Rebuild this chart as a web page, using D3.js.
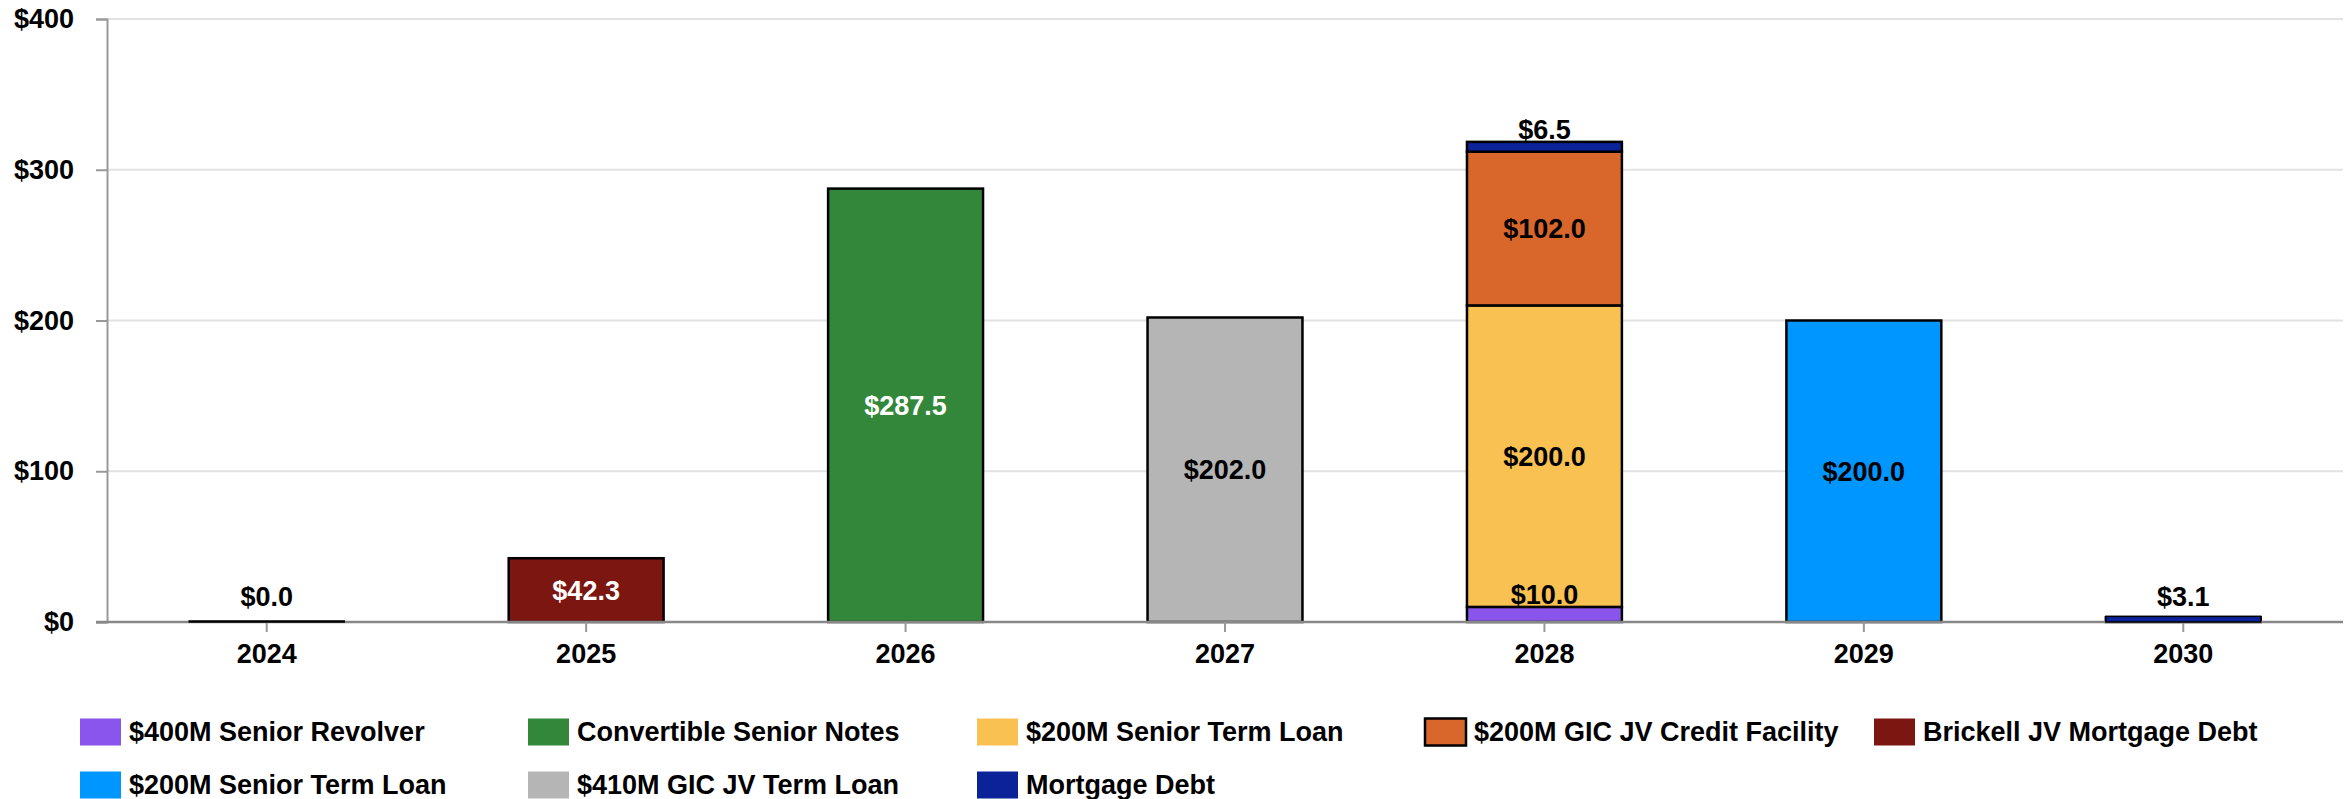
<!DOCTYPE html>
<html>
<head>
<meta charset="utf-8">
<script src="https://cdn.jsdelivr.net/npm/d3@7"></script>
<style>
  body { margin: 0; background: #fff; }
  svg text { font-family: "Liberation Sans", Arial, sans-serif; font-weight: bold; }
</style>
</head>
<body>
<svg id="chart"></svg>
<script>
// data ($M maturing per year)
var years = ['2024', '2025', '2026', '2027', '2028', '2029', '2030'];
var seriesNames = ['$400M Senior Revolver', 'Convertible Senior Notes', '$200M Senior Term Loan',
  '$200M GIC JV Credit Facility', 'Brickell JV Mortgage Debt', '$200M Senior Term Loan ',
  '$410M GIC JV Term Loan', 'Mortgage Debt'];
var seriesColors = ['#8a55ec', '#33873a', '#f9c052', '#d9662a', '#7b1610', '#0096ff', '#b5b5b5', '#0b2299'];
var labelColors = ['#000', '#fff', '#000', '#000', '#fff', '#000', '#000', '#000'];

var revolver    = [null, null, null, null, 10.0, null, null];
var convertible = [null, null, 287.5, null, null, null, null];
var termLoanA   = [null, null, null, null, 200.0, null, null];
var gicCredit   = [null, null, null, null, 102.0, null, null];
var brickell    = [null, 42.3, null, null, null, null, null];
var termLoanB   = [null, null, null, null, null, 200.0, null];
var gicTerm     = [null, null, null, 202.0, null, null, null];
var mortgage    = [0.0, null, null, null, 6.5, null, 3.1];
var seriesValues = [revolver, convertible, termLoanA, gicCredit, brickell, termLoanB, gicTerm, mortgage];

var yTicks = [0, 100, 200, 300, 400];

var W = 2348, H = 799;
var margin = {top: 19, right: 5, bottom: 177, left: 107};
var fs = 27;

var svg = d3.select('#chart').attr('width', W).attr('height', H);

var x = d3.scaleBand()
  .domain(years)
  .range([margin.left, W - margin.right])
  .paddingInner(0.515)
  .paddingOuter(0.2575);

var y = d3.scaleLinear()
  .domain([0, 400])
  .range([H - margin.bottom, margin.top]);

// gridlines
svg.append('g')
  .selectAll('line')
  .data(yTicks.slice(1))
  .join('line')
  .attr('x1', margin.left).attr('x2', W - margin.right)
  .attr('y1', d => y(d)).attr('y2', d => y(d))
  .attr('stroke', '#e2e2e2').attr('stroke-width', 2);

// y axis
var yAxis = svg.append('g')
  .attr('transform', 'translate(' + margin.left + ',0)')
  .call(d3.axisLeft(y).tickValues(yTicks).tickSize(11).tickPadding(22).tickFormat(d => '$' + d));
yAxis.select('.domain').attr('stroke', '#999').attr('stroke-width', 2);
yAxis.selectAll('.tick line').attr('stroke', '#999').attr('stroke-width', 2);
yAxis.selectAll('text').attr('font-size', fs).attr('fill', '#000');

// stacked segments
var table = years.map(function(yr, i) {
  var row = {year: yr};
  seriesNames.forEach(function(n, k) { row[n] = seriesValues[k][i] || 0; });
  return row;
});
var stacked = d3.stack().keys(seriesNames)(table);

var segs = [];
stacked.forEach(function(layer, k) {
  layer.forEach(function(d, i) {
    if (seriesValues[k][i] === null) return;
    segs.push({k: k, year: years[i], v: seriesValues[k][i], y0: d[0], y1: d[1]});
  });
});

svg.append('g')
  .selectAll('rect')
  .data(segs)
  .join('rect')
  .attr('x', d => x(d.year))
  .attr('width', x.bandwidth())
  .attr('y', d => y(d.y1))
  .attr('height', d => y(d.y0) - y(d.y1))
  .attr('fill', d => seriesColors[d.k])
  .attr('stroke', '#000')
  .attr('stroke-width', 2.5);

// x axis
var xAxis = svg.append('g')
  .attr('transform', 'translate(0,' + y(0) + ')')
  .call(d3.axisBottom(x).tickSize(10).tickPadding(12).tickSizeOuter(0));
xAxis.select('.domain').attr('stroke', '#888').attr('stroke-width', 2.5)
  .attr('d', 'M' + (margin.left - 11) + ',0H' + (W - margin.right));
xAxis.selectAll('.tick line').attr('stroke', '#999').attr('stroke-width', 2);
xAxis.selectAll('text').attr('font-size', fs).attr('fill', '#000');

// redraw the thin bars over the axis line
svg.append('g')
  .selectAll('rect')
  .data(segs.filter(d => d.y0 === 0 && d.v < 5))
  .join('rect')
  .attr('x', d => x(d.year))
  .attr('width', x.bandwidth())
  .attr('y', d => y(d.y1) - 1)
  .attr('height', d => y(d.y0) - y(d.y1) + 1)
  .attr('fill', d => seriesColors[d.k])
  .attr('stroke', '#000')
  .attr('stroke-width', 1.5);

// value labels: inside for tall segments, just above for short ones
svg.append('g')
  .selectAll('text')
  .data(segs)
  .join('text')
  .attr('x', d => x(d.year) + x.bandwidth() / 2)
  .attr('y', function(d) {
    if (d.v >= 20) return (y(d.y0) + y(d.y1)) / 2;
    if (d.y0 === 0 && d.v < 5) return y(0) - 25;
    return y(d.y1) - 12;
  })
  .attr('dy', '0.35em')
  .attr('text-anchor', 'middle')
  .attr('font-size', fs)
  .attr('fill', d => d.v >= 20 ? labelColors[d.k] : '#000')
  .text(d => '$' + d3.format('.1f')(d.v));

// legend, two rows
var legendCols = [80, 528, 977, 1425, 1874];
var legend = svg.append('g')
  .selectAll('g')
  .data(seriesNames)
  .join('g')
  .attr('transform', (d, i) => 'translate(' + legendCols[i % 5] + ',' + (732 + Math.floor(i / 5) * 53) + ')');

legend.append('rect')
  .attr('x', 0).attr('y', -13.5)
  .attr('width', 41).attr('height', 27)
  .attr('fill', (d, i) => seriesColors[i])
  .attr('stroke', (d, i) => i === 3 ? '#000' : 'none')
  .attr('stroke-width', 2.5);

legend.append('text')
  .attr('x', 49)
  .attr('dy', '0.35em')
  .attr('font-size', fs)
  .attr('fill', '#000')
  .text(d => d.trim());
</script>
</body>
</html>
